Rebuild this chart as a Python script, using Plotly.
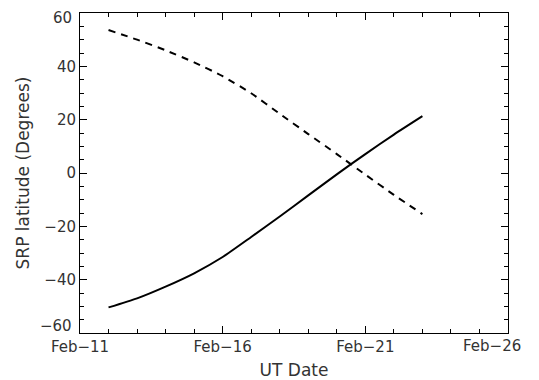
import plotly.graph_objects as go

dates = ["2013-02-12", "2013-02-13", "2013-02-14", "2013-02-15", "2013-02-16", "2013-02-17",
         "2013-02-18", "2013-02-19", "2013-02-20", "2013-02-21", "2013-02-22", "2013-02-23"]
solid_lat = [-50.4, -47.0, -42.6, -37.6, -31.5, -24.0, -16.3, -8.4, -0.5, 7.1, 14.4, 21.3]
dashed_lat = [53.6, 50.0, 46.0, 41.5, 36.3, 29.9, 22.2, 14.6, 7.1, -0.6, -8.2, -15.4]

x_range = ["2013-02-11", "2013-02-26"]
y_range = [-60, 60]
y_tick_vals = [-40, -20, 0, 20, 40]
x_tick_vals = ["2013-02-11", "2013-02-16", "2013-02-21"]
x_tick_text = ["Feb\u221211", "Feb\u221216", "Feb\u221221"]
edge_x_label = ("2013-02-26", "Feb\u221226")
edge_y_labels = [(60, "60"), (-60, "\u221260")]

FONT = "DejaVu Sans"
TXT = "#333333"

fig = go.Figure()
fig.add_trace(go.Scatter(x=dates, y=dashed_lat, mode="lines",
                         line=dict(color="black", width=2, dash="7px,6px", shape="spline", smoothing=0.6),
                         showlegend=False))
fig.add_trace(go.Scatter(x=dates, y=solid_lat, mode="lines",
                         line=dict(color="black", width=2, shape="spline", smoothing=0.6),
                         showlegend=False))

# page has an 8px body margin, so the figure is sized/offset to compensate
fig.update_layout(
    width=531, height=372,
    margin=dict(l=72, r=31, t=5, b=47),
    paper_bgcolor="white", plot_bgcolor="white",
    font=dict(family=FONT, size=15, color=TXT),
)
fig.update_xaxes(
    type="date", range=x_range, automargin=False,
    tickmode="array", tickvals=x_tick_vals, ticktext=x_tick_text,
    ticks="inside", ticklen=7, tickwidth=1, tickcolor="black",
    minor=dict(tick0="2013-02-11", dtick=86400000, ticks="inside", ticklen=4, tickwidth=1, tickcolor="black"),
    showline=True, linecolor="black", linewidth=1, mirror="ticks",
    showgrid=False, zeroline=False,
    title=dict(text="UT Date", font=dict(size=17, family=FONT, color=TXT), standoff=10),
)
fig.update_yaxes(
    range=y_range, automargin=False,
    tickmode="array", tickvals=y_tick_vals,
    ticks="inside", ticklen=7, tickwidth=1, tickcolor="black",
    minor=dict(tick0=0, dtick=5, ticks="inside", ticklen=4, tickwidth=1, tickcolor="black"),
    showline=True, linecolor="black", linewidth=1, mirror="ticks",
    showgrid=False, zeroline=False,
    title=dict(text="SRP latitude (Degrees)", font=dict(size=17, family=FONT, color=TXT), standoff=10),
)
fig.add_annotation(x=edge_x_label[0], xref="x", y=0, yref="paper", text=edge_x_label[1],
                   showarrow=False, xanchor="center", yanchor="top", xshift=-16, yshift=-2,
                   font=dict(family=FONT, size=15, color=TXT))
for val, txt in edge_y_labels:
    fig.add_annotation(x=0, xref="paper", y=val, yref="y", text=txt,
                       showarrow=False, xanchor="right", yanchor="middle", xshift=-6,
                       yshift=(-5 if val > 0 else 7),
                       font=dict(family=FONT, size=15, color=TXT))

fig.write_html("out.html")
